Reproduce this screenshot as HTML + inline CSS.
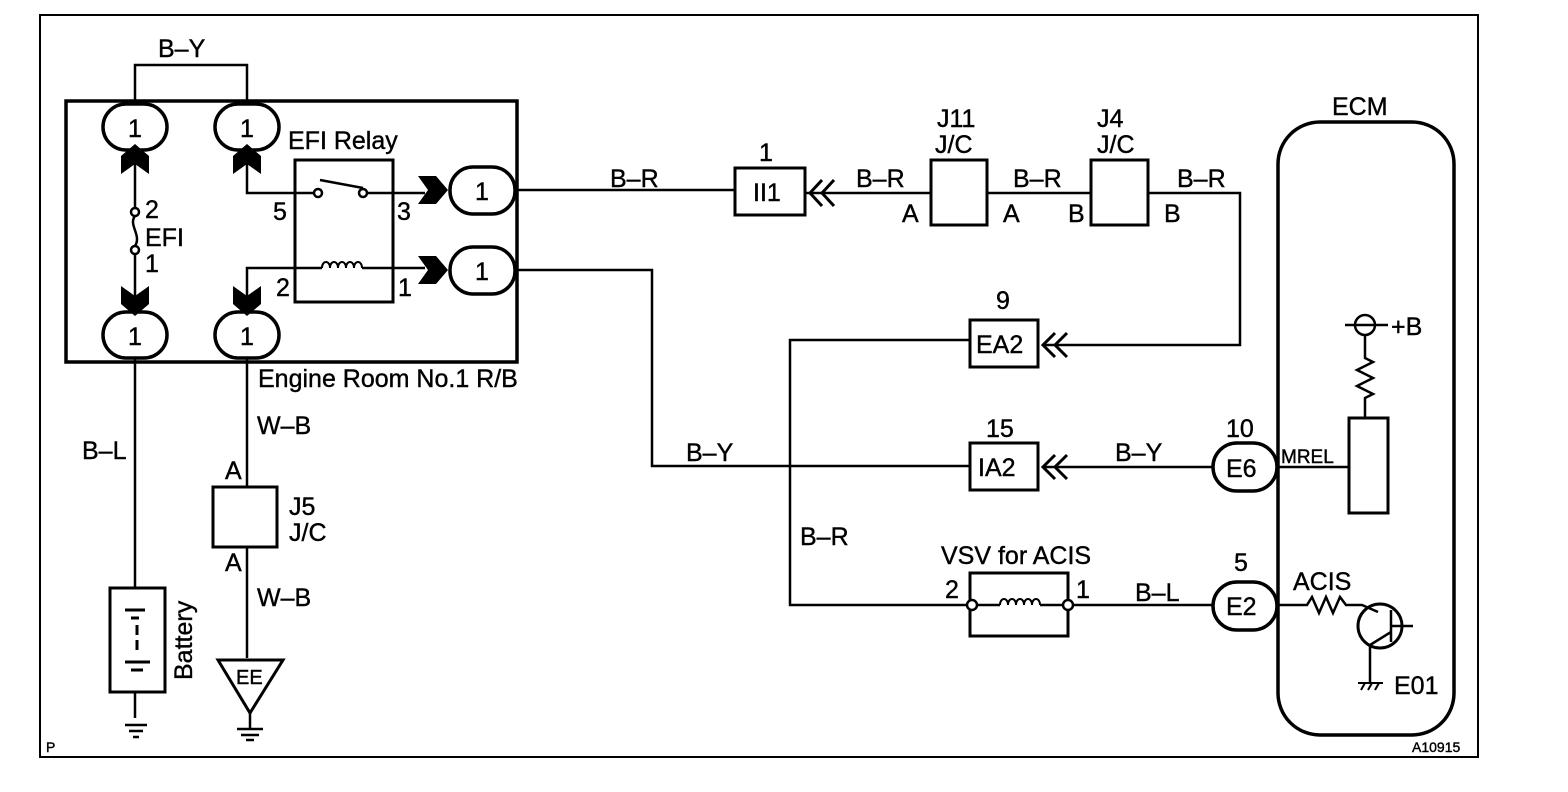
<!DOCTYPE html>
<html><head><meta charset="utf-8"><style>
html,body{margin:0;padding:0;background:#fff;}
svg{display:block;}
text{font-family:"Liberation Sans",Arial,sans-serif;fill:#000;font-size:25px;stroke:#000;stroke-width:0.4px;}
</style></head><body>
<svg width="1568" height="792" viewBox="0 0 1568 792" xmlns="http://www.w3.org/2000/svg">
<defs>
<g id="chev"><path d="M-14,-12 L0,-2 L14,-12 L14,6 L0,18 L-14,6 Z" fill="#000"/></g>
</defs>
<g fill="none" stroke="#000" stroke-width="2.5">
<path d="M40,15 L1478,15 L1478,757 L40,757 Z" stroke-width="2"/>
<rect x="66" y="101" width="451" height="261" stroke-width="3.5"/>
<path d="M135,105 V65 H247 V105"/>
<rect x="103" y="104" width="64" height="46" rx="23" stroke-width="3.5"/>
<rect x="215" y="104" width="64" height="46" rx="23" stroke-width="3.5"/>
<rect x="103" y="312" width="64" height="46" rx="23" stroke-width="3.5"/>
<rect x="215" y="312" width="64" height="46" rx="23" stroke-width="3.5"/>
<rect x="450" y="167" width="65" height="47" rx="23" stroke-width="3.5"/>
<rect x="450" y="247" width="65" height="47" rx="23" stroke-width="3.5"/>
<path d="M135,160 V208 M135,252 V300"/>
<circle cx="135" cy="212" r="4" fill="#fff"/>
<circle cx="135" cy="250" r="4" fill="#fff"/>
<path d="M135,216 C128,225 142,235 135,246"/>
<rect x="295" y="160" width="98" height="142" stroke-width="3"/>
<path d="M247,160 V193 H314 M367,193 H425"/>
<circle cx="318" cy="193" r="4" fill="#fff"/>
<circle cx="363" cy="193" r="4" fill="#fff"/>
<path d="M320,180 L363,188"/>
<path d="M247,300 V268 H322 M362,268 H425"/>
<path d="M322,268 C322,260 330,260 330,268 C330,260 338,260 338,268 C338,260 346,260 346,268 C346,260 354,260 354,268 C354,260 362,260 362,268" stroke-width="2"/>
<path d="M515,190 H735 M805,193 H931 M987,193 H1091 M1148,193 H1240 V345 H1045"/>
<path d="M515,270 H652 V466 H970 M1045,467 H1214"/>
<path d="M970,340 H790 V605 H968 M1071,605 H1214"/>
<rect x="735" y="168" width="70" height="47" stroke-width="3"/>
<rect x="931" y="160" width="56" height="65" stroke-width="3"/>
<rect x="1091" y="160" width="57" height="65" stroke-width="3"/>
<rect x="970" y="320" width="68" height="47" stroke-width="3"/>
<rect x="970" y="443" width="68" height="47" stroke-width="3"/>
<rect x="970" y="573" width="98" height="63" stroke-width="3"/>
<path d="M822,180 L810,193 L822,206 M834,180 L822,193 L834,206" stroke-width="3"/>
<path d="M1055,333 L1043,345 L1055,357 M1067,333 L1055,345 L1067,357" stroke-width="3"/>
<path d="M1055,455 L1043,467 L1055,479 M1067,455 L1055,467 L1067,479" stroke-width="3"/>
<path d="M974,605 H1000 M1040,605 H1066"/>
<path d="M1000,605 C1000,597 1008,597 1008,605 C1008,597 1016,597 1016,605 C1016,597 1024,597 1024,605 C1024,597 1032,597 1032,605 C1032,597 1040,597 1040,605" stroke-width="2"/>
<circle cx="972" cy="605" r="5" fill="#fff"/>
<circle cx="1068" cy="605" r="5" fill="#fff"/>
<rect x="1213" y="443" width="64" height="48" rx="24" stroke-width="3.5"/>
<rect x="1213" y="582" width="64" height="48" rx="24" stroke-width="3.5"/>
<rect x="1278" y="122" width="176" height="613" rx="42" stroke-width="3.5"/>
<circle cx="1365" cy="325" r="10"/>
<path d="M1345,325 H1388 M1365,335 V358 L1373,362 L1357,370 L1373,378 L1357,386 L1373,394 L1365,398 V418"/>
<rect x="1349" y="418" width="39" height="95" stroke-width="3"/>
<path d="M1278,467 H1349"/>
<path d="M1278,605 H1307 L1312,597 L1319,613 L1326,597 L1333,613 L1340,597 L1346,605 H1362 L1378,612"/>
<circle cx="1380" cy="626" r="22" stroke-width="3"/>
<path d="M1391,610 V642 M1391,626 H1413 M1391,632 L1370,645 V682"/>
<path d="M1358,683 H1383 M1361,690 L1365,683 M1368,690 L1372,683 M1375,690 L1379,683" stroke-width="2"/>
<path d="M135,358 V588 M135,692 V718"/>
<rect x="110" y="588" width="55" height="104" stroke-width="3"/>
<path d="M125,610 H145 M131,618 H139 M137,625 V635 M137,640 V650 M125,662 H150 M131,670 H143" stroke-width="3"/>
<path d="M125,725 H147 M129,731 H143 M133,737 H139" stroke-width="2.5"/>
<path d="M247,358 V487 M247,547 V658"/>
<rect x="213" y="487" width="64" height="60" stroke-width="3"/>
<path d="M218,660 H283 L250,713 Z" stroke-width="3"/>
<path d="M250,713 V728 M237,729 H263 M241,735 H259 M246,740 H254" stroke-width="2.5"/>
</g>
<use href="#chev" transform="translate(135,162) rotate(180)"/>
<use href="#chev" transform="translate(247,162) rotate(180)"/>
<use href="#chev" transform="translate(135,298)"/>
<use href="#chev" transform="translate(247,298)"/>
<use href="#chev" transform="translate(430,190) rotate(-90)"/>
<use href="#chev" transform="translate(430,270) rotate(-90)"/>
<text x="158" y="57">B–Y</text>
<text x="128" y="137">1</text><text x="240" y="137">1</text>
<text x="128" y="345">1</text><text x="240" y="345">1</text>
<text x="475" y="200">1</text><text x="475" y="280">1</text>
<text x="288" y="149">EFI Relay</text>
<text x="145" y="218">2</text><text x="145" y="246">EFI</text><text x="145" y="272">1</text>
<text x="273" y="220">5</text><text x="397" y="220">3</text>
<text x="276" y="296">2</text><text x="398" y="296">1</text>
<text x="258" y="387">Engine Room No.1 R/B</text>
<text x="610" y="187">B–R</text>
<text x="759" y="161">1</text>
<text x="753" y="201">II1</text>
<text x="856" y="187">B–R</text>
<text x="1013" y="187">B–R</text>
<text x="1177" y="187">B–R</text>
<text x="937" y="127">J11</text><text x="935" y="153">J/C</text>
<text x="1097" y="127">J4</text><text x="1097" y="153">J/C</text>
<text x="902" y="222">A</text><text x="1003" y="222">A</text>
<text x="1068" y="222">B</text><text x="1164" y="222">B</text>
<text x="996" y="309">9</text>
<text x="976" y="353">EA2</text>
<text x="986" y="437">15</text>
<text x="978" y="476">IA2</text>
<text x="686" y="461">B–Y</text>
<text x="1115" y="461">B–Y</text>
<text x="1226" y="437">10</text>
<text x="1226" y="477">E6</text>
<text x="800" y="545">B–R</text>
<text x="941" y="564">VSV for ACIS</text>
<text x="945" y="598">2</text><text x="1076" y="598">1</text>
<text x="1135" y="601">B–L</text>
<text x="1234" y="571">5</text>
<text x="1226" y="615">E2</text>
<text x="1332" y="115">ECM</text>
<text x="1391" y="335">+B</text>
<text x="1281" y="463" style="font-size:19px">MREL</text>
<text x="1293" y="590">ACIS</text>
<text x="1394" y="694">E01</text>
<text x="82" y="459">B–L</text>
<text x="257" y="434">W–B</text>
<text x="225" y="479">A</text><text x="225" y="571">A</text>
<text x="289" y="515">J5</text><text x="289" y="541">J/C</text>
<text x="257" y="606">W–B</text>
<text x="236" y="684" style="font-size:20px">EE</text>
<text x="0" y="0" transform="translate(192,680) rotate(-90)">Battery</text>
<text x="46" y="752" style="font-size:14px">P</text>
<text x="1412" y="752" style="font-size:14px">A10915</text>
</svg>
</body></html>
